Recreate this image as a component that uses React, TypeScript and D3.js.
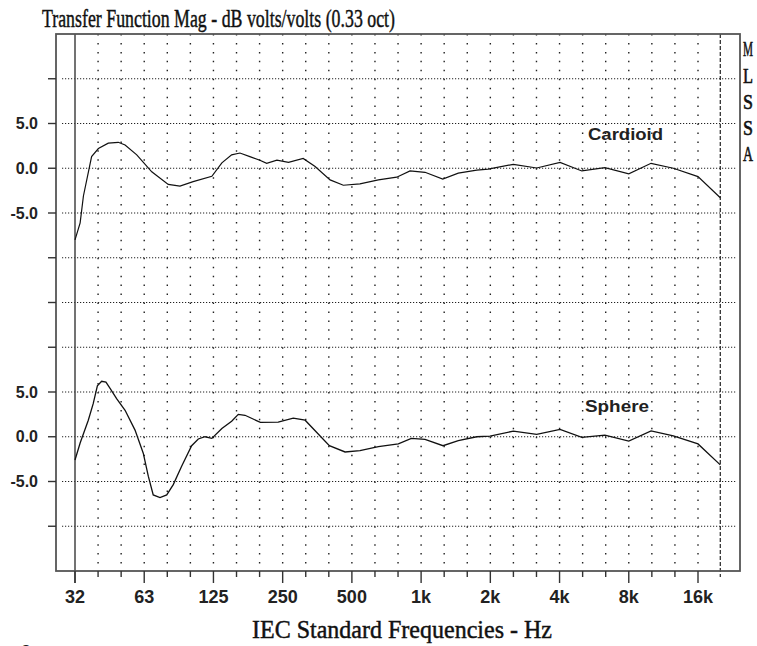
import React from "react";
import * as d3 from "d3";

const TITLE = "Transfer Function Mag - dB volts/volts (0.33 oct)";
const X_TITLE = "IEC Standard Frequencies - Hz";
const SIDE_LETTERS = ["M", "L", "S", "S", "A"];

const TICK_LABELS = ["32", "63", "125", "250", "500", "1k", "2k", "4k", "8k", "16k"];
const TICK_FREQS = [31.25, 62.5, 125, 250, 500, 1000, 2000, 4000, 8000, 16000];
const GRID_BANDS = 28; // 1/3-octave bands 32 Hz .. 16 kHz
const END_FREQ = 20000;

const Y_LABEL_VALUES = [5, 0, -5];
const Y_LABEL_TEXT = ["5.0", "0.0", "-5.0"];
const CARDIOID_OFFSET = 0;
const SPHERE_OFFSET = -30;

const cardioidFreq = [31.25, 32.9, 34, 36.9, 39.5, 43.6, 48.2, 51.6, 58, 67.4, 79.5, 89.4, 102, 123, 136, 150, 163, 180, 199, 213, 236, 265, 307, 346, 402, 459, 542, 652, 783, 895, 1040, 1242, 1451, 1745, 1959, 2518, 3182, 4020, 5000, 6300, 8000, 10000, 12500, 16000, 20000];
const cardioidDb = [-8, -6.1, -3.1, 1.3, 2.2, 2.8, 2.9, 2.6, 1.5, -0.4, -1.8, -2, -1.5, -0.9, 0.6, 1.5, 1.7, 1.3, 0.9, 0.55, 0.9, 0.66, 1.1, 0.2, -1.3, -1.9, -1.75, -1.3, -1.0, -0.3, -0.45, -1.2, -0.55, -0.2, -0.1, 0.44, 0.03, 0.66, -0.3, 0.07, -0.63, 0.55, 0, -0.93, -3.3];

const sphereFreq = [31.25, 32.9, 35.7, 37.5, 39.1, 40.8, 42.6, 44.4, 47.4, 51.6, 57, 61.9, 65.1, 68.4, 73.2, 78.3, 83.6, 90.9, 100.5, 107.4, 114.9, 123, 136, 150, 160.3, 171.5, 180, 200, 239, 278, 313, 399, 467, 542, 652, 796, 907, 1040, 1245, 1451, 1745, 1993, 2518, 3182, 4020, 5000, 6300, 8000, 10000, 12500, 16000, 20000];
const sphereDb = [-2.6, -0.7, 1.85, 3.7, 5.7, 6.2, 6.1, 5.4, 4.25, 2.96, 0.74, -1.84, -4.4, -6.5, -6.8, -6.5, -5.35, -3.3, -1.0, -0.25, 0, -0.18, 0.93, 1.74, 2.5, 2.4, 2.15, 1.6, 1.63, 2.07, 1.85, -1.0, -1.7, -1.55, -1.1, -0.8, -0.18, -0.3, -1.0, -0.44, 0, 0.07, 0.63, 0.26, 0.82, -0.07, 0.18, -0.48, 0.66, 0.1, -0.8, -3.14];

const W = 757;
const H = 646;
const FRAME = { left: 56, right: 740, top: 34, bottom: 571 };

export default function App() {
  const x = d3.scaleLog().domain([31.25, 16000]).range([75, 698]);
  const y = d3.scaleLinear().domain([-45, 15]).range([FRAME.bottom, FRAME.top]);
  const hLines = d3.range(-40, 15, 5);
  const bands = d3.range(GRID_BANDS).map((i) => 31.25 * Math.pow(2, i / 3));
  const line = d3
    .line<[number, number]>()
    .x((d) => x(d[0]))
    .y((d) => y(d[1]));
  const card = line(cardioidFreq.map((f, i) => [f, cardioidDb[i] + CARDIOID_OFFSET] as [number, number])) || "";
  const sph = line(sphereFreq.map((f, i) => [f, sphereDb[i] + SPHERE_OFFSET] as [number, number])) || "";
  const xEnd = x(END_FREQ);
  const dotStep = (y(0) - y(5)) / 5;
  const serif = "'Liberation Serif', 'DejaVu Serif', serif";
  const sans = "'Liberation Sans', Arial, sans-serif";
  const letterY = [56, 83, 109, 135, 161];

  return (
    <svg width={W} height={H} style={{ position: "absolute", left: 0, top: 0, background: "#fff" }}>
      <rect x={0} y={0} width={W} height={H} fill="#fff" />
      <text x={42} y={27} fontFamily={serif} fontSize={25} textLength={353} lengthAdjust="spacingAndGlyphs" fill="#111" stroke="#111" strokeWidth={0.45}>
        {TITLE}
      </text>
      {/* horizontal dotted grid */}
      {hLines.map((v) => (
        <line key={"h" + v} x1={62} x2={736} y1={y(v)} y2={y(v)} stroke="#222" strokeWidth={1.2} strokeDasharray="1.2 1.8" />
      ))}
      {/* vertical sparse dotted grid */}
      {bands.slice(1).map((f, i) => (
        <line key={"v" + i} x1={x(f)} x2={x(f)} y1={FRAME.top} y2={FRAME.bottom} stroke="#222" strokeWidth={1.4} strokeDasharray={`1.5 ${dotStep - 1.5}`} />
      ))}
      {/* 32 Hz solid line */}
      <line x1={x(31.25)} x2={x(31.25)} y1={FRAME.top} y2={FRAME.bottom + 12} stroke="#444" strokeWidth={1.5} />
      {/* 20 kHz dashed line */}
      <line x1={xEnd} x2={xEnd} y1={FRAME.top} y2={FRAME.bottom + 6} stroke="#222" strokeWidth={1.2} strokeDasharray="4 2" />
      {/* frame */}
      <rect x={FRAME.left} y={FRAME.top} width={FRAME.right - FRAME.left} height={FRAME.bottom - FRAME.top} fill="none" stroke="#555" strokeWidth={1.8} />
      {/* x ticks */}
      {bands.map((f, i) => (
        <line key={"t" + i} x1={x(f)} x2={x(f)} y1={FRAME.bottom} y2={FRAME.bottom + (i % 3 === 0 ? 12 : 6)} stroke="#333" strokeWidth={1.4} />
      ))}
      {TICK_FREQS.map((f, i) => (
        <text key={"xl" + i} x={x(f)} y={603} textAnchor="middle" fontFamily={sans} fontWeight="bold" fontSize={18} fill="#222">
          {TICK_LABELS[i]}
        </text>
      ))}
      {/* y ticks */}
      {hLines.map((v) => (
        <line key={"yt" + v} x1={48} x2={FRAME.left} y1={y(v)} y2={y(v)} stroke="#333" strokeWidth={1.4} />
      ))}
      {[CARDIOID_OFFSET, SPHERE_OFFSET].map((off) =>
        Y_LABEL_VALUES.map((v, i) => (
          <text key={"yl" + off + v} x={38} y={y(v + off) + 5.5} textAnchor="end" fontFamily={sans} fontWeight="bold" fontSize={16} fill="#222">
            {Y_LABEL_TEXT[i]}
          </text>
        ))
      )}
      {/* curves */}
      <path d={card} fill="none" stroke="#111" strokeWidth={1.2} />
      <path d={sph} fill="none" stroke="#111" strokeWidth={1.3} />
      <text x={588} y={140} fontFamily={sans} fontWeight="bold" fontSize={17} textLength={75} lengthAdjust="spacingAndGlyphs" fill="#222">
        Cardioid
      </text>
      <text x={585} y={412} fontFamily={sans} fontWeight="bold" fontSize={17} textLength={64} lengthAdjust="spacingAndGlyphs" fill="#222">
        Sphere
      </text>
      {SIDE_LETTERS.map((c, i) => (
        <text key={"s" + i} x={743} y={letterY[i]} fontFamily={serif} fontSize={21} textLength={10} lengthAdjust="spacingAndGlyphs" fill="#111" stroke="#111" strokeWidth={0.6}>
          {c}
        </text>
      ))}
      <text x={252} y={638} fontFamily={serif} fontSize={25} textLength={300} lengthAdjust="spacingAndGlyphs" fill="#111" stroke="#111" strokeWidth={0.45}>
        {X_TITLE}
      </text>
      <text x={21} y={655} fontFamily={sans} fontWeight="bold" fontSize={18} fill="#222">
        a
      </text>
    </svg>
  );
}
